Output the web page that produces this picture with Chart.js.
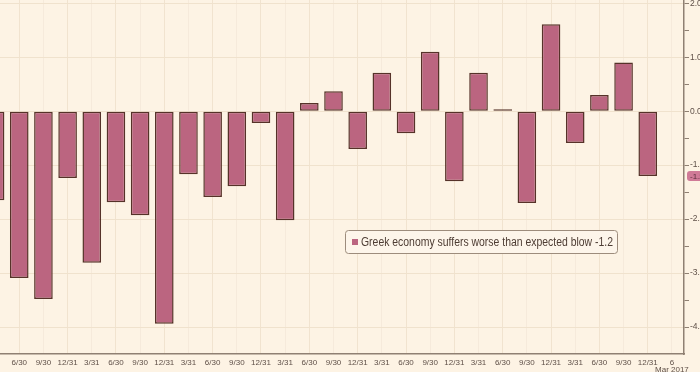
<!DOCTYPE html>
<html>
<head>
<meta charset="utf-8">
<script src="https://cdn.jsdelivr.net/npm/chart.js@4.4.1/dist/chart.umd.min.js"></script>
<style>
  html, body { margin: 0; padding: 0; width: 700px; height: 372px; overflow: hidden; background: #fdf3e4; }
  #wrap { position: absolute; left: -17px; top: 0; width: 760px; height: 372px; }
</style>
</head>
<body>
<div id="wrap"><canvas id="gdp" width="760" height="372"></canvas></div>
<script>
// quarterly labels, last slot is the current date
const quarterLabels = [
  "3/31", "6/30", "9/30", "12/31",
  "3/31", "6/30", "9/30", "12/31",
  "3/31", "6/30", "9/30", "12/31",
  "3/31", "6/30", "9/30", "12/31",
  "3/31", "6/30", "9/30", "12/31",
  "3/31", "6/30", "9/30", "12/31",
  "3/31", "6/30", "9/30", "12/31",
  ["6", "Mar 2017"]
];
const gdpChange = [
  -1.65, -3.09, -3.48, -1.24,
  -2.81, -1.69, -1.93, -3.94,
  -1.17, -1.59, -1.39, -0.22,
  -2.02, 0.15, 0.37, -0.70,
  0.71, -0.41, 1.10, -1.30,
  0.71, 0.01, -1.70, 1.61,
  -0.59, 0.30, 0.90, -1.20,
  null
];
const yTicks = [-4, -3.5, -3, -2.5, -2, -1.5, -1, -0.5, 0, 0.5, 1, 1.5, 2];
const lastValue = -1.2;
const seriesName = "Greek economy suffers worse than expected blow";

const barFill = "#bb6580";
const barEdge = "#563229";
const axisColor = "#8f8073";
const tickText = "#5f5048";
const tickFont = "'Liberation Sans Narrow', 'Liberation Sans', sans-serif";

// legend box + last value tag
const overlay = {
  id: "overlay",
  afterDraw(chart) {
    const ctx = chart.ctx;
    const y = chart.scales.y;
    const area = chart.chartArea;

    // last value tag on the right axis
    const ty = y.getPixelForValue(lastValue);
    ctx.save();
    ctx.fillStyle = "#d07a97";
    ctx.beginPath();
    ctx.roundRect(area.right + 3, ty - 5, 30, 10, 3);
    ctx.fill();
    ctx.fillStyle = "#5a2f3c";
    ctx.font = "8px " + tickFont;
    ctx.textBaseline = "middle";
    ctx.fillText(lastValue.toFixed(1), area.right + 6, ty + 0.5);
    ctx.restore();

    // legend
    const lx = 362, ly = 230, lw = 272, lh = 23;
    ctx.save();
    ctx.fillStyle = "#fdf5ea";
    ctx.strokeStyle = "#9d8c7c";
    ctx.lineWidth = 1;
    ctx.beginPath();
    ctx.roundRect(lx + 0.5, ly + 0.5, lw, lh, 3);
    ctx.fill();
    ctx.stroke();
    ctx.fillStyle = barFill;
    ctx.fillRect(lx + 7, ly + 9, 6, 6);
    ctx.fillStyle = "#4d3c33";
    ctx.font = "12px " + tickFont;
    ctx.textBaseline = "middle";
    const txt = seriesName + " " + lastValue.toFixed(1);
    const sx = Math.min(1, 252 / ctx.measureText(txt).width);
    ctx.translate(lx + 16, ly + lh / 2 + 1);
    ctx.scale(sx, 1);
    ctx.fillText(txt, 0, 0);
    ctx.restore();
  }
};

new Chart(document.getElementById("gdp"), {
  type: "bar",
  data: {
    labels: quarterLabels,
    datasets: [{
      label: seriesName,
      data: gdpChange,
      backgroundColor: barFill,
      borderColor: barEdge,
      borderWidth: 1.5,
      borderSkipped: false,
      minBarLength: 2,
      categoryPercentage: 1,
      barPercentage: 0.77
    }]
  },
  options: {
    responsive: false,
    animation: false,
    layout: { padding: 0 },
    plugins: {
      legend: { display: false },
      tooltip: { enabled: false }
    },
    scales: {
      x: {
        offset: true,
        grid: {
          offset: false,
          drawTicks: false,
          color: (c) => (c.index % 2 === 1 ? "#f1e3cf" : "#f6eadb"),
          lineWidth: 1
        },
        border: { color: axisColor, width: 1.5 },
        ticks: {
          color: tickText,
          font: { family: tickFont, size: 8, lineHeight: 0.8 },
          padding: 6,
          maxRotation: 0,
          autoSkip: false,
          // first quarter sits under the left edge, Bloomberg drops it
          callback: function (v, i) { return i === 0 ? "" : this.getLabelForValue(v); }
        },
        afterFit: (s) => { s.height = 18; s.paddingLeft = 0; s.paddingRight = 0; }
      },
      y: {
        position: "right",
        min: -4.5,
        max: 2.06,
        afterBuildTicks: (s) => { s.ticks = yTicks.map((v) => ({ value: v })); },
        grid: {
          color: (c) => (c.tick && Number.isInteger(c.tick.value) ? "#f0e2cd" : "rgba(0,0,0,0)"),
          tickColor: axisColor,
          tickLength: 5
        },
        border: { color: axisColor, width: 1.5 },
        ticks: {
          color: tickText,
          font: { family: tickFont, size: 8.5 },
          padding: 1,
          callback: (v) => (Number.isInteger(v) ? v.toFixed(1) : "")
        },
        afterFit: (s) => { s.width = 59; s.paddingTop = 0; s.paddingBottom = 0; }
      }
    }
  },
  plugins: [overlay]
});
</script>
</body>
</html>
